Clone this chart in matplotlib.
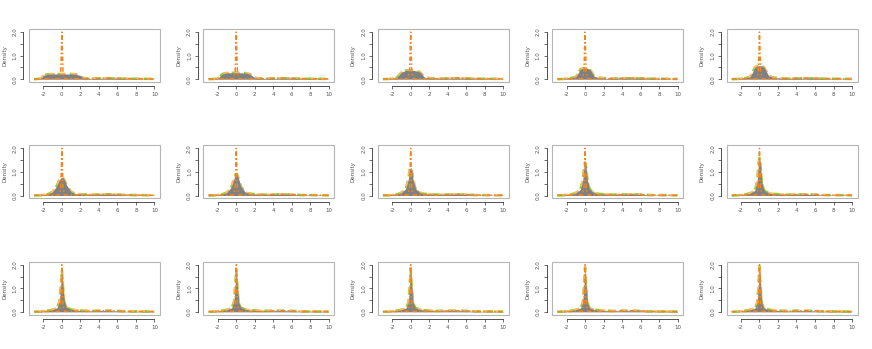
import matplotlib
matplotlib.use("Agg")
import matplotlib.pyplot as plt
from matplotlib.patches import Rectangle

# knots (x) at which the estimated densities were read off the picture
x_knots = [-3.0, -2.3, -2.0, -1.5, -1.0, -0.5, -0.25, -0.1, 0.0, 0.1, 0.25, 0.5,
           1.0, 1.5, 2.0, 2.3, 3.0, 4.0, 5.0, 6.0, 7.0, 8.0, 10.0]

# gray estimated densities, one list per panel (row-major, 3 rows x 5 columns)
gray_density = [
    [0.00, 0.02, 0.16, 0.21, 0.22, 0.22, 0.22, 0.22, 0.22, 0.22, 0.22, 0.22, 0.22, 0.21, 0.16, 0.05, 0.03, 0.03, 0.04, 0.03, 0.02, 0.02, 0.01],
    [0.00, 0.01, 0.04, 0.22, 0.27, 0.27, 0.27, 0.27, 0.27, 0.27, 0.27, 0.27, 0.26, 0.21, 0.06, 0.04, 0.03, 0.03, 0.04, 0.03, 0.02, 0.02, 0.01],
    [0.00, 0.01, 0.03, 0.06, 0.30, 0.37, 0.37, 0.37, 0.37, 0.37, 0.37, 0.36, 0.30, 0.08, 0.05, 0.04, 0.03, 0.03, 0.04, 0.03, 0.02, 0.02, 0.01],
    [0.00, 0.01, 0.03, 0.05, 0.10, 0.42, 0.46, 0.46, 0.46, 0.46, 0.46, 0.42, 0.12, 0.06, 0.05, 0.04, 0.03, 0.03, 0.04, 0.03, 0.02, 0.02, 0.01],
    [0.00, 0.01, 0.03, 0.05, 0.10, 0.50, 0.56, 0.57, 0.57, 0.57, 0.56, 0.50, 0.14, 0.07, 0.05, 0.04, 0.03, 0.03, 0.04, 0.03, 0.02, 0.02, 0.01],
    [0.00, 0.01, 0.03, 0.06, 0.15, 0.45, 0.68, 0.75, 0.76, 0.75, 0.68, 0.45, 0.15, 0.08, 0.06, 0.05, 0.04, 0.04, 0.05, 0.04, 0.02, 0.02, 0.01],
    [0.00, 0.01, 0.03, 0.06, 0.13, 0.38, 0.72, 0.88, 0.90, 0.88, 0.72, 0.38, 0.13, 0.08, 0.06, 0.05, 0.04, 0.04, 0.05, 0.04, 0.02, 0.02, 0.01],
    [0.00, 0.01, 0.03, 0.05, 0.12, 0.30, 0.70, 1.12, 1.20, 1.12, 0.70, 0.30, 0.12, 0.07, 0.06, 0.05, 0.04, 0.04, 0.05, 0.04, 0.02, 0.02, 0.01],
    [0.00, 0.01, 0.03, 0.05, 0.11, 0.26, 0.65, 1.25, 1.40, 1.25, 0.65, 0.26, 0.11, 0.07, 0.06, 0.05, 0.04, 0.04, 0.05, 0.04, 0.02, 0.02, 0.01],
    [0.00, 0.01, 0.03, 0.05, 0.10, 0.22, 0.58, 1.35, 1.60, 1.35, 0.58, 0.22, 0.10, 0.07, 0.06, 0.05, 0.04, 0.04, 0.05, 0.04, 0.02, 0.02, 0.01],
    [0.00, 0.01, 0.03, 0.05, 0.09, 0.18, 0.45, 1.20, 1.75, 1.20, 0.45, 0.19, 0.10, 0.07, 0.06, 0.05, 0.04, 0.05, 0.05, 0.04, 0.02, 0.02, 0.01],
    [0.00, 0.01, 0.03, 0.05, 0.09, 0.17, 0.42, 1.18, 1.80, 1.18, 0.42, 0.18, 0.10, 0.07, 0.06, 0.05, 0.04, 0.05, 0.05, 0.04, 0.02, 0.02, 0.01],
    [0.00, 0.01, 0.03, 0.05, 0.09, 0.16, 0.40, 1.16, 1.85, 1.16, 0.40, 0.17, 0.10, 0.07, 0.06, 0.05, 0.04, 0.05, 0.05, 0.04, 0.02, 0.02, 0.01],
    [0.00, 0.01, 0.03, 0.05, 0.09, 0.16, 0.38, 1.15, 1.90, 1.15, 0.38, 0.16, 0.10, 0.07, 0.06, 0.05, 0.04, 0.05, 0.05, 0.04, 0.02, 0.02, 0.01],
    [0.00, 0.01, 0.03, 0.05, 0.09, 0.15, 0.37, 1.14, 1.95, 1.14, 0.37, 0.15, 0.10, 0.07, 0.06, 0.05, 0.04, 0.05, 0.05, 0.04, 0.02, 0.02, 0.01],
]

# orange dashed reference density (same in every panel)
truth_x = [-3.0, -0.3, -0.12, 0.0, 0.12, 0.3, 1.0, 3.0, 4.0, 5.0, 6.0, 7.0, 10.0]
truth_y = [0.01, 0.02, 0.30, 2.00, 0.30, 0.02, 0.02, 0.02, 0.04, 0.05, 0.04, 0.02, 0.01]

x_ticks = [-2, 0, 2, 4, 6, 8, 10]
x_tick_labels = ["-2", "0", "2", "4", "6", "8", "10"]
y_ticks = [0.0, 0.5, 1.0, 1.5, 2.0]
y_tick_labels = ["0.0", "", "1.0", "", "2.0"]

W, H = 872, 349
fig = plt.figure(figsize=(W / 100, H / 100), dpi=100)
cell_w, cell_h = W / 5, H / 3
txt = "#555555"

for i, gy in enumerate(gray_density):
    r, c = divmod(i, 5)
    left = (c * cell_w + 29) / W
    bottom = 1 - (r * cell_h + 82) / H
    ax = fig.add_axes([left, bottom, 131 / W, 53 / H])
    ax.plot(x_knots, gy, color="#9acd32", lw=1.8, ls=(0, (3, 2)), zorder=2)
    ax.plot(x_knots, gy, color="#fdb863", lw=1.6, ls=(2.5, (2.5, 2.5)), zorder=2)
    ax.fill_between(x_knots, 0, gy, color="#808080", lw=0, zorder=3)
    ax.plot(truth_x, truth_y, color="#f28522", lw=1.1, ls=(0, (3, 1.5, 1, 1.5)), zorder=4)
    ax.set_xlim(-3.55, 10.6)
    ax.set_ylim(-0.12, 2.13)
    for s in ("top", "right"):
        ax.spines[s].set_visible(False)
    ax.spines["left"].set_position(("outward", 4))
    ax.spines["bottom"].set_position(("outward", 3))
    ax.spines["left"].set_bounds(0, 2)
    ax.spines["bottom"].set_bounds(-2, 10)
    for s in ("left", "bottom"):
        ax.spines[s].set_linewidth(0.6)
        ax.spines[s].set_color("#333333")
    ax.add_patch(Rectangle((0, 0), 1, 1, transform=ax.transAxes, fill=False,
                           ec="#b5b5b5", lw=0.8, clip_on=False, zorder=5))
    ax.set_xticks(x_ticks)
    ax.set_xticklabels(x_tick_labels)
    ax.set_yticks(y_ticks)
    ax.set_yticklabels(y_tick_labels, rotation=90, va="center")
    ax.tick_params(axis="both", labelsize=4, colors="#333333", labelcolor=txt,
                   length=2.2, width=0.5, pad=2)
    ax.set_ylabel("Density", fontsize=4, color=txt, labelpad=4)
    ax.patch.set_alpha(0)

fig.savefig("out.png", dpi=100)
